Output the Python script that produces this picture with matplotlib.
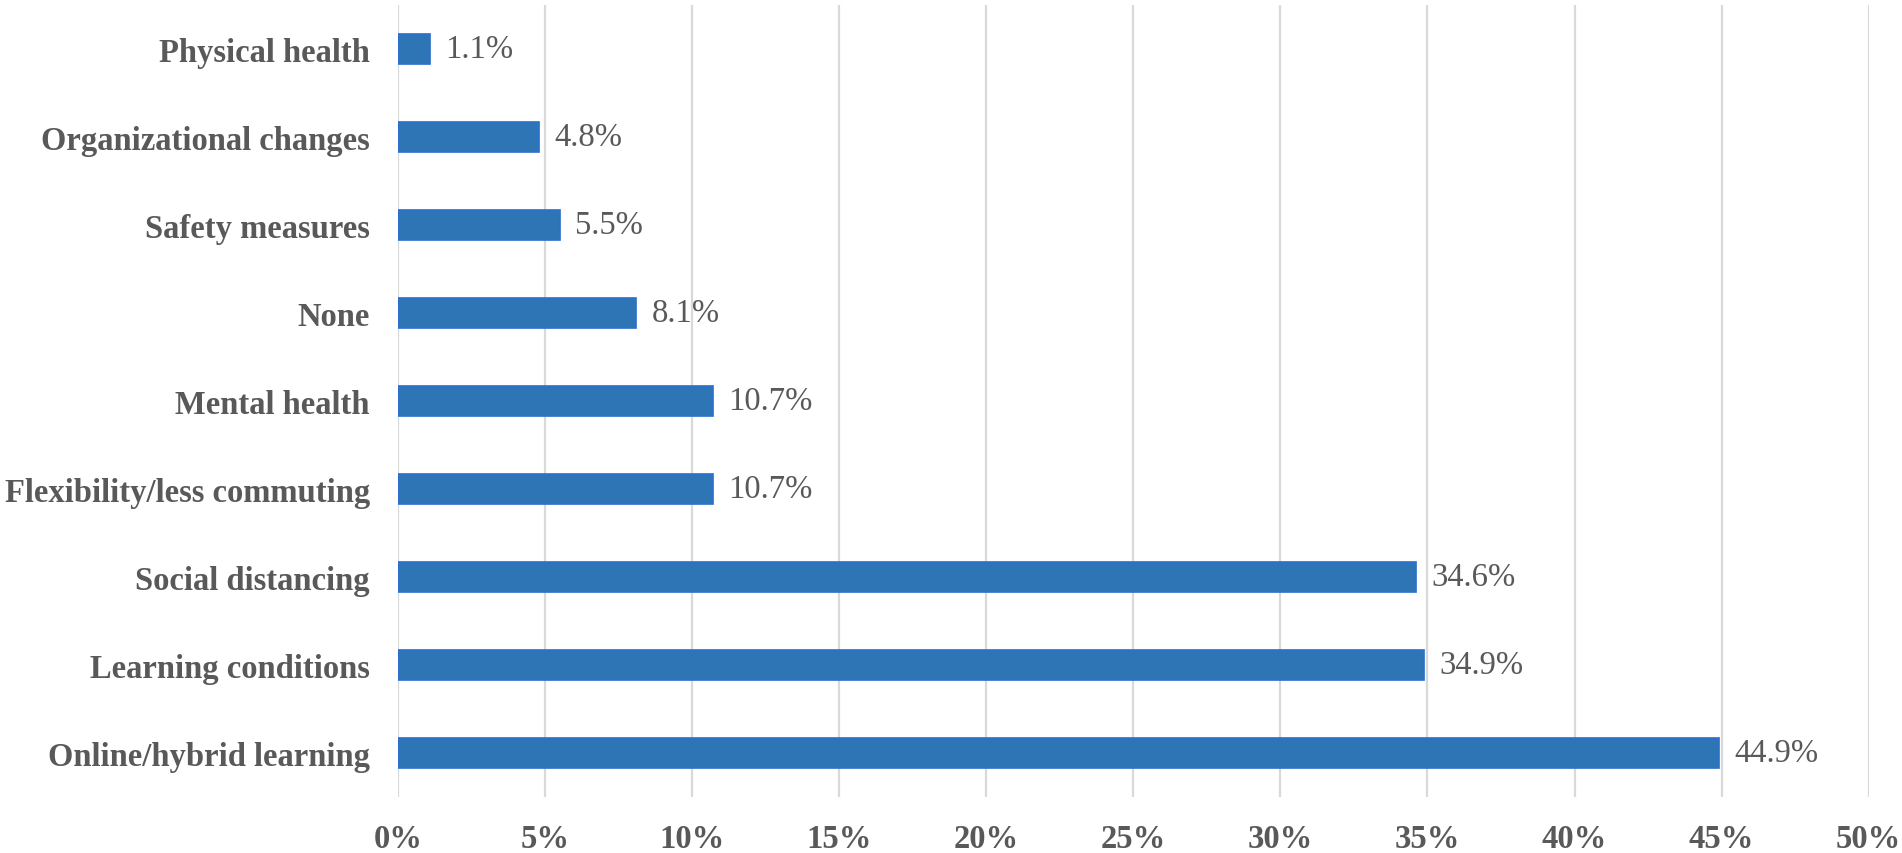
import matplotlib
matplotlib.use('Agg')
import matplotlib.pyplot as plt
from matplotlib.ticker import FuncFormatter

# data, bottom to top
categories = [
    'Online/hybrid learning',
    'Learning conditions',
    'Social distancing',
    'Flexibility/less commuting',
    'Mental health',
    'None',
    'Safety measures',
    'Organizational changes',
    'Physical health',
]
values = [44.9, 34.9, 34.6, 10.7, 10.7, 8.1, 5.5, 4.8, 1.1]
x_ticks = [0, 5, 10, 15, 20, 25, 30, 35, 40, 45, 50]

text_color = '#595959'
bar_color = '#2E75B6'

plt.rcParams['font.family'] = ['Liberation Serif', 'DejaVu Serif']

fig = plt.figure(figsize=(19.02, 8.54), dpi=100)
ax = fig.add_axes([0.2091, 0.0656, 0.7734, 0.9274])

bars = ax.barh(categories, values, height=0.335, color=bar_color,
               edgecolor='#2A6FCC', linewidth=1.2, zorder=3)

for bar, v in zip(bars, values):
    ax.annotate(f'{v:.1f}%', (bar.get_width(), bar.get_y() + bar.get_height() / 2),
                xytext=(11, 0), textcoords='offset points',
                ha='left', va='center', fontsize=23.5, color=text_color)

ax.set_xlim(0, 50)
ax.set_ylim(-0.5, len(categories) - 0.5)
ax.set_xticks(x_ticks)
ax.xaxis.set_major_formatter(FuncFormatter(lambda x, _: f'{x:.0f}%'))
ax.grid(axis='x', color='#D9D9D9', linewidth=1.6, zorder=0)
ax.set_axisbelow(True)

for s in ax.spines.values():
    s.set_visible(False)
ax.tick_params(axis='both', length=0, labelsize=23.5, colors=text_color)
ax.tick_params(axis='y', pad=20)
ax.tick_params(axis='x', pad=19)
for lbl in ax.get_xticklabels() + ax.get_yticklabels():
    lbl.set_fontweight('bold')

plt.savefig('out.png', dpi=100)
plt.close()
